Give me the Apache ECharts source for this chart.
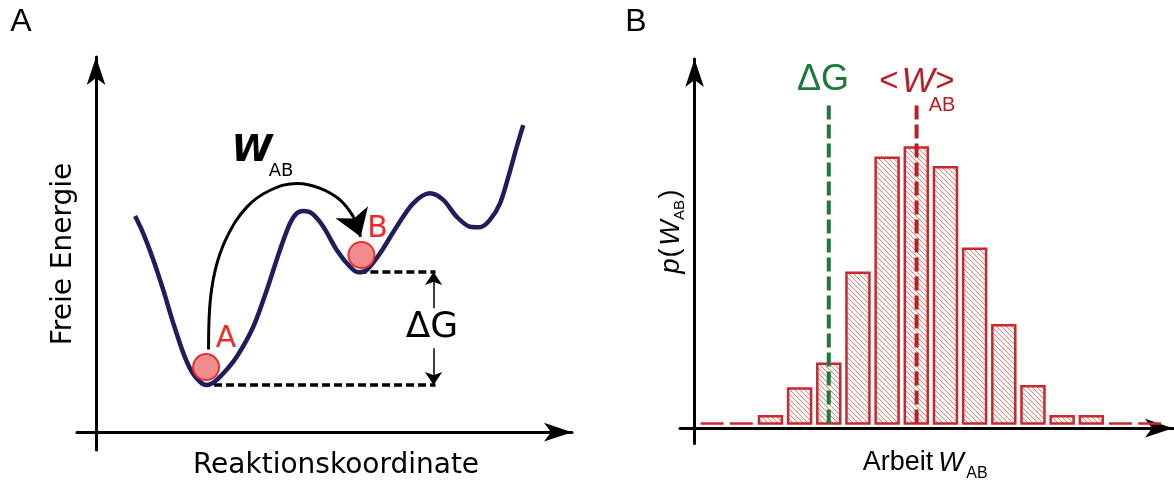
<!DOCTYPE html>
<html>
<head>
<meta charset="utf-8">
<script src="https://cdn.jsdelivr.net/npm/echarts@6.0.0/dist/echarts.min.js"></script>
<style>
html, body { margin: 0; padding: 0; background: #fff; }
#main { width: 1174px; height: 481px; }
</style>
</head>
<body>
<div id="main"></div>
<script>
// Panel A: Energielandschaft (Reaktionskoordinate / Freie Energie)
var landscapeX = [2.05, 2.48, 3.01, 3.53, 4.06, 4.59, 5.03, 5.46, 5.78, 6.16, 6.69, 7.39, 8.26, 8.97, 9.66, 10.19, 10.54, 10.89, 11.33, 11.94, 12.64, 13.34, 13.78, 14.22, 14.92, 15.79, 16.66, 17.54, 18.24, 18.94, 19.64, 20.17, 20.69, 21.22, 21.66, 22.10, 22.44];
var landscapeY = [12.10, 11.13, 9.64, 7.96, 6.09, 4.41, 3.38, 2.82, 2.64, 2.77, 3.29, 4.22, 5.90, 7.96, 10.20, 11.69, 12.25, 12.38, 12.25, 11.50, 10.20, 9.26, 8.95, 9.08, 10.01, 11.50, 12.81, 13.37, 13.00, 12.06, 11.50, 11.47, 11.88, 12.81, 14.30, 15.98, 17.19];
var stateNames = ['A', 'B'];
var stateX = [5.78, 13.94];
var stateY = [3.64, 9.91];
var levelY = [2.64, 8.96];        // Energie von A und B
var levelStartX = [6.20, 13.78];
var levelEndX = 17.83;
var dgArrowX = 17.73;
var dgArrowFrom = [6.94, 4.70];
var dgArrowTo = [8.96, 2.64];
// Pfeil W_AB von A nach B
var arcX = [5.91, 5.96, 6.26, 6.88, 7.93, 9.15, 10.56, 11.78, 12.84, 13.52];
var arcY = [4.63, 6.83, 9.07, 10.93, 12.61, 13.54, 13.92, 13.65, 12.98, 12.05];
var arcHead = [13.90, 10.94];

// Panel B: Histogramm der Arbeit W_AB
var workBins = [0.6, 1.6, 2.6, 3.6, 4.6, 5.6, 6.6, 7.6, 8.6, 9.6, 10.6, 11.6, 12.6, 13.6, 14.6, 15.6];
var workCounts = [0, 0, 1.0, 4.8, 8.2, 20.7, 36.5, 37.9, 35.2, 24.0, 13.5, 5.1, 1.0, 1.0, 0, 0];
var barBase = 0.65;
var deltaGWork = 4.60;
var meanWork = 7.61;
var markerTop = 44.4;

var fontA = 'DejaVu Sans';
var fontB = 'Liberation Sans';

var chart = echarts.init(document.getElementById('main'));

function zip(xs, ys) {
	return xs.map(function (x, i) { return [x, ys[i]]; });
}

// Schraffur fuer die Balken
function hatch() {
	var c = document.createElement('canvas');
	c.width = 5; c.height = 5;
	var g = c.getContext('2d');
	g.fillStyle = '#fcf3f3';
	g.fillRect(0, 0, 5, 5);
	g.strokeStyle = '#c08c8c';
	g.lineWidth = 1;
	g.beginPath();
	g.moveTo(0, 0); g.lineTo(5, 5);
	g.moveTo(4, -1); g.lineTo(6, 1);
	g.moveTo(-1, 4); g.lineTo(1, 6);
	g.stroke();
	return { image: c, repeat: 'repeat' };
}
var hatchFill = hatch();

function arrowAxis(gridIndex, min, max) {
	return {
		type: 'value', gridIndex: gridIndex, min: min, max: max,
		axisLine: { onZero: true, symbol: ['none', 'arrow'], symbolSize: [14, 28],
			lineStyle: { color: '#000', width: 3 } },
		axisTick: { show: false },
		axisLabel: { show: false },
		splitLine: { show: false }
	};
}

function txt(x, y, s, font, color, rot) {
	return {
		type: 'text', x: x, y: y, rotation: rot || 0,
		style: { text: s, font: font, fill: color || '#000', align: 'center', verticalAlign: 'middle' }
	};
}

var levelSeries = levelY.map(function (y, i) {
	return {
		type: 'line', xAxisIndex: 0, yAxisIndex: 0, symbol: 'none', z: 3,
		lineStyle: { color: '#000', width: 3.5, type: [8, 4] },
		data: [[levelStartX[i], y], [levelEndX, y]]
	};
});

var option = {
	animation: false,
	grid: [
		{ left: 77, right: 602, top: 57, bottom: 31 },
		{ left: 680, right: 1, top: 59, bottom: 37.5 }
	],
	xAxis: [arrowAxis(0, -1, 25), arrowAxis(1, -0.5, 16.4)],
	yAxis: [arrowAxis(0, -1, 21), arrowAxis(1, -2.1, 50.7)],
	series: [
		{
			name: 'Freie Energie', type: 'line', xAxisIndex: 0, yAxisIndex: 0,
			smooth: 0.3, symbol: 'none', z: 4,
			lineStyle: { color: '#1f1d5c', width: 4.5 },
			data: zip(landscapeX, landscapeY)
		}
	].concat(levelSeries).concat([
		{
			name: 'dG Pfeile', type: 'lines', coordinateSystem: 'cartesian2d', xAxisIndex: 0, yAxisIndex: 0,
			symbol: ['none', 'arrow'], symbolSize: [7, 13], z: 3,
			lineStyle: { color: '#000', width: 1.5, opacity: 1 },
			data: dgArrowFrom.map(function (y, i) {
				return { coords: [[dgArrowX, y], [dgArrowX, dgArrowTo[i]]] };
			})
		},
		{
			name: 'W_AB', type: 'line', xAxisIndex: 0, yAxisIndex: 0,
			smooth: 0.4, symbol: 'none', z: 3,
			lineStyle: { color: '#000', width: 3 },
			data: zip(arcX, arcY)
		},
		{
			name: 'W_AB Spitze', type: 'lines', coordinateSystem: 'cartesian2d', xAxisIndex: 0, yAxisIndex: 0,
			symbol: ['none', 'arrow'], symbolSize: [14, 26], z: 3,
			lineStyle: { color: '#000', width: 3, opacity: 1 },
			data: [{ coords: [[arcX[arcX.length - 1], arcY[arcY.length - 1]], arcHead] }]
		},
		{
			name: 'Zustaende', type: 'scatter', xAxisIndex: 0, yAxisIndex: 0,
			symbolSize: 26, z: 5,
			itemStyle: { color: '#f08c8c', borderColor: '#e8312f', borderWidth: 2, opacity: 1 },
			label: {
				show: true, position: 'inside', formatter: '{b}',
				color: '#ee2a2a', fontFamily: fontA, fontSize: 30
			},
			data: stateNames.map(function (n, i) {
				return { name: n, value: [stateX[i], stateY[i]],
					label: { offset: i === 0 ? [20, -28] : [16, -26] } };
			})
		},
		{
			name: 'p(W_AB)', type: 'custom', xAxisIndex: 1, yAxisIndex: 1, z: 2,
			renderItem: function (params, api) {
				var x = api.value(0);
				var p0 = api.coord([x, barBase]);
				var p1 = api.coord([x, barBase + api.value(1)]);
				var w = api.size([0.787, 0])[0];
				return {
					type: 'rect',
					shape: { x: p0[0] - w / 2, y: p1[1], width: w, height: p0[1] - p1[1] },
					style: { fill: hatchFill, stroke: '#cc272d', lineWidth: 2.5 }
				};
			},
			data: zip(workBins, workCounts)
		},
		{
			name: 'dG', type: 'line', xAxisIndex: 1, yAxisIndex: 1, symbol: 'none', z: 4,
			lineStyle: { color: '#1d7a3a', width: 4, type: [14, 5] },
			data: [[deltaGWork, barBase], [deltaGWork, markerTop]]
		},
		{
			name: '<W_AB>', type: 'line', xAxisIndex: 1, yAxisIndex: 1, symbol: 'none', z: 4,
			lineStyle: { color: '#b52127', width: 4, type: [14, 5] },
			data: [[meanWork, barBase], [meanWork, markerTop]]
		}
	]),
	graphic: [
		// Panel A
		txt(21, 22, 'A', '32px ' + fontB),
		txt(64, 254, 'Freie Energie', '28px ' + fontA, '#000', Math.PI / 2),
		txt(336, 466, 'Reaktionskoordinate', '28px ' + fontA),
		txt(252, 151, 'W', 'italic bold 37px ' + fontA),
		txt(281, 171, 'AB', '18px ' + fontA),
		txt(432, 328, 'ΔG', '36px ' + fontA),
		// Panel B
		txt(636, 22, 'B', '32px ' + fontB),
		txt(823, 80, 'ΔG', '36px ' + fontB, '#1d7a3a'),
		txt(889, 82, '<', '33px ' + fontB, '#b52127'),
		txt(918, 82, 'W', 'italic 35px ' + fontB, '#b52127'),
		txt(945, 82, '>', '33px ' + fontB, '#b52127'),
		txt(942, 105, 'AB', '20px ' + fontB, '#b52127'),
		txt(671, 266, 'p', 'italic 27px ' + fontB, '#000', Math.PI / 2),
		txt(671, 253, '(', '27px ' + fontB, '#000', Math.PI / 2),
		txt(671, 233, 'W', 'italic 27px ' + fontB, '#000', Math.PI / 2),
		txt(680, 210, 'AB', '15px ' + fontB, '#000', Math.PI / 2),
		txt(671, 194, ')', '27px ' + fontB, '#000', Math.PI / 2),
		txt(898, 463, 'Arbeit', '27px ' + fontB),
		txt(951, 463, 'W', 'italic 27px ' + fontB),
		txt(977, 474, 'AB', '16px ' + fontB)
	]
};

chart.setOption(option);
</script>
</body>
</html>
